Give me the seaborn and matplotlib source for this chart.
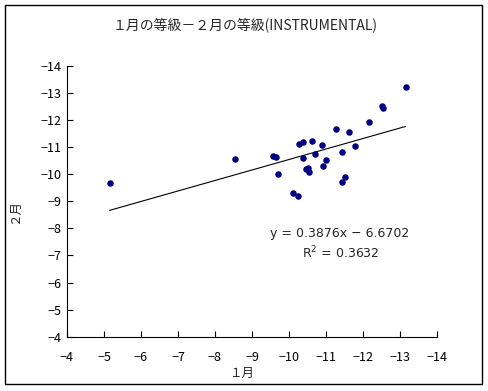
import numpy as np
import pandas as pd
import matplotlib
matplotlib.use("Agg")
import matplotlib.pyplot as plt
import seaborn as sns
from matplotlib.patches import Rectangle

jan = [-5.15, -8.53, -9.58, -9.66, -9.71, -10.12, -10.25, -10.28, -10.37, -10.39,
       -10.45, -10.52, -10.55, -10.61, -10.69, -10.90, -10.93, -11.01, -11.28,
       -11.44, -11.44, -11.52, -11.61, -11.79, -12.16, -12.50, -12.55, -13.15]
feb = [-9.69, -10.58, -10.66, -10.65, -10.02, -9.32, -9.21, -11.13, -11.20, -10.61,
       -10.18, -10.23, -10.10, -11.24, -10.76, -11.09, -10.32, -10.54, -11.68,
       -10.84, -9.73, -9.90, -11.57, -11.06, -11.94, -12.52, -12.46, -13.24]
slope = 0.3876
intercept = -6.6702
r2 = 0.3632
ticks = [-4, -5, -6, -7, -8, -9, -10, -11, -12, -13, -14]

title = "１月の等級－２月の等級(INSTRUMENTAL)"
xlabel = "１月"
ylabel = "２月"

sns.set_style("white")
plt.rcParams['font.family'] = ['Noto Sans CJK JP', 'DejaVu Sans']
plt.rcParams['axes.unicode_minus'] = True

fig = plt.figure(figsize=(4.89, 3.91), dpi=100)
fig.patch.set_facecolor("white")
ax = fig.add_axes([67/489, 1-336.7/391, 370/489, 270.7/391])

df = pd.DataFrame({"jan": jan, "feb": feb})
sns.scatterplot(data=df, x="jan", y="feb", ax=ax, color="#000080", s=22,
                edgecolor="#000080", linewidth=0, zorder=3)

xline = np.array([min(jan), max(jan)])
line_df = pd.DataFrame({"x": xline, "y": slope * xline + intercept})
sns.lineplot(data=line_df, x="x", y="y", ax=ax, color="black", linewidth=0.8, zorder=2)

ax.set_xlim(-4, -14)
ax.set_ylim(-4, -14)
ax.set_xticks(ticks)
ax.set_yticks(ticks)
ax.set_xticklabels([f"{t}".replace("-", "\u2212") for t in ticks])
ax.set_yticklabels([f"{t}".replace("-", "\u2212") for t in ticks])
ax.tick_params(direction="in", length=4, width=0.8, labelsize=9, colors="black",
               bottom=True, left=True, pad=10)
ax.tick_params(axis="y", pad=4)
for s in ["top", "right"]:
    ax.spines[s].set_visible(False)
for s in ["left", "bottom"]:
    ax.spines[s].set_color("black")
    ax.spines[s].set_linewidth(0.8)
ax.set_xlabel("")
ax.set_ylabel("")

fig.text(242/489, 1-373/391, xlabel, ha="center", va="center", fontsize=9)
fig.text(15/489, 1-212/391, ylabel, ha="center", va="center", fontsize=9, rotation=90)
fig.text(245/489, 1-25/391, title, ha="center", va="center", fontsize=10)

ax.text(340/489, 1-233/391, f"y = {slope}x \u2212 {abs(intercept):.4f}", transform=fig.transFigure,
        ha="center", va="center", fontsize=9, family="DejaVu Sans")
ax.text(341/489, 1-253/391, f"R$^2$ = {r2}", transform=fig.transFigure,
        ha="center", va="center", fontsize=9, family="DejaVu Sans")

fig.add_artist(Rectangle((5/489, 1-384/391), 477/489, 379/391, transform=fig.transFigure,
                         fill=False, edgecolor="black", linewidth=1.0))

fig.savefig("out.png", dpi=100, facecolor="white")
